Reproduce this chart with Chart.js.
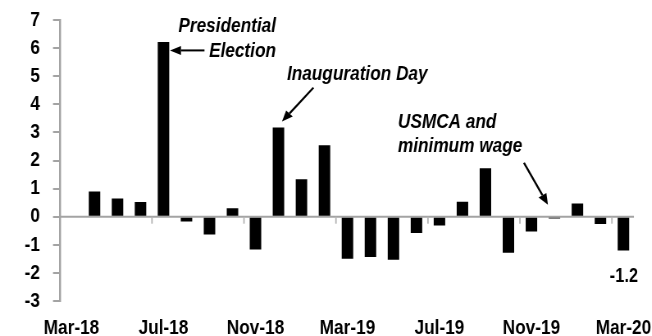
<!DOCTYPE html>
<html>
<head>
<meta charset="utf-8">
<script src="https://cdn.jsdelivr.net/npm/chart.js@4/dist/chart.umd.min.js"></script>
<style>
html,body{margin:0;padding:0;background:#fff;overflow:hidden;}
#outer{width:652px;height:336px;overflow:hidden;position:relative;}
#wrap{width:795px;height:336px;transform:scaleX(0.82);transform-origin:0 0;}
</style>
</head>
<body>
<div id="outer"><div id="wrap"><canvas id="c" width="795" height="336"></canvas></div></div>
<script>
const months = ["Mar-18","Apr-18","May-18","Jun-18","Jul-18","Aug-18","Sep-18","Oct-18","Nov-18","Dec-18",
  "Jan-19","Feb-19","Mar-19","Apr-19","May-19","Jun-19","Jul-19","Aug-19","Sep-19","Oct-19","Nov-19","Dec-19",
  "Jan-20","Feb-20","Mar-20"];
const values = [null, 0.9, 0.65, 0.52, 6.22, -0.17, -0.63, 0.3, -1.17, 3.17, 1.33, 2.54,
  -1.5, -1.43, -1.53, -0.58, -0.31, 0.53, 1.72, -1.28, -0.53, -0.06, 0.47, -0.26, -1.2];
const shownTickLabels = ["Mar-18","Jul-18","Nov-18","Mar-19","Jul-19","Nov-19","Mar-20"];
const yTicks = [-3,-2,-1,0,1,2,3,4,5,6,7];
const annotations = [
  {lines:["Presidential","Election"], month:"Jul-18"},
  {lines:["Inauguration Day"], month:"Dec-18"},
  {lines:["USMCA and","minimum wage"], month:"Dec-19"},
  {lines:["-1.2"], month:"Mar-20"}
];

// horizontal condensing factor (emulates a narrow typeface)
const K = 0.82;
const FAM = '"Liberation Sans", Arial, Helvetica, sans-serif';
const GRAY = '#a3a3a3';

const annotPlugin = {
  id: 'annot',
  beforeDatasetsDraw(chart){
    const ctx = chart.ctx, x = chart.scales.x, y = chart.scales.y;
    const y0 = y.getPixelForValue(0);
    ctx.save();
    ctx.strokeStyle = GRAY; ctx.lineWidth = 2;
    ctx.beginPath(); ctx.moveTo(chart.chartArea.left, y0); ctx.lineTo(chart.chartArea.right - 1/K, y0); ctx.stroke();
    ctx.lineWidth = 1.5/K; ctx.strokeStyle = '#b5b5b5';
    for (let i = 4; i < months.length; i += 4) {
      const px = (x.getPixelForValue(i-1) + x.getPixelForValue(i)) / 2;
      ctx.beginPath(); ctx.moveTo(px, y0); ctx.lineTo(px, y0 + 7); ctx.stroke();
    }
    ctx.restore();
  },
  afterDatasetsDraw(chart){
    const ctx = chart.ctx, x = chart.scales.x, y = chart.scales.y;
    const X = m => x.getPixelForValue(months.indexOf(m));
    const V = m => values[months.indexOf(m)];
    const d = v => v / K; // reference px -> canvas px (horizontal)
    function arrow(x1,y1,x2,y2){
      ctx.save();
      ctx.scale(1/K, 1);
      x1 *= K; x2 *= K;
      const ang = Math.atan2(y2-y1, x2-x1), L = 11, W = 4.5;
      const bx = x2 - L*Math.cos(ang), by = y2 - L*Math.sin(ang);
      ctx.beginPath(); ctx.moveTo(x1,y1); ctx.lineTo(bx,by);
      ctx.lineWidth = 2; ctx.strokeStyle = '#000'; ctx.stroke();
      ctx.beginPath(); ctx.moveTo(x2,y2);
      ctx.lineTo(bx + W*Math.sin(ang), by - W*Math.cos(ang));
      ctx.lineTo(bx - W*Math.sin(ang), by + W*Math.cos(ang));
      ctx.closePath(); ctx.fillStyle = '#000'; ctx.fill();
      ctx.restore();
    }
    ctx.save();
    ctx.fillStyle = '#000';
    ctx.textBaseline = 'alphabetic';
    ctx.font = 'italic bold 21px ' + FAM;
    // Presidential Election
    let a = annotations[0], bx = X(a.month), by = y.getPixelForValue(V(a.month));
    ctx.textAlign = 'right';
    ctx.fillText(a.lines[0], bx + d(112.5), by - 10);
    ctx.fillText(a.lines[1], bx + d(112.5), by + 15);
    arrow(bx + d(41), by + 8.5, bx + d(6.5), by + 8.5);
    // Inauguration Day
    a = annotations[1]; bx = X(a.month); by = y.getPixelForValue(V(a.month));
    ctx.textAlign = 'left';
    ctx.fillText(a.lines[0], bx + d(8.5), by - 48);
    arrow(bx + d(35), by - 40, bx + d(3.5), by - 6);
    // USMCA
    a = annotations[2]; bx = X(a.month); by = y.getPixelForValue(0);
    ctx.textAlign = 'left';
    ctx.fillText(a.lines[0], bx - d(156.5), by - 89);
    ctx.fillText(a.lines[1], bx - d(156.5), by - 65);
    arrow(bx - d(30.5), by - 54, bx - d(6.5), by - 12);
    // -1.2 label
    a = annotations[3]; bx = X(a.month); by = y.getPixelForValue(V(a.month));
    ctx.font = 'bold 20px ' + FAM;
    ctx.textAlign = 'center';
    ctx.fillText(a.lines[0], bx + d(0.5), by + 32);
    ctx.restore();
  }
};

new Chart(document.getElementById('c'), {
  type: 'bar',
  data: {
    labels: months,
    datasets: [{
      data: values,
      backgroundColor: '#000',
      borderWidth: 0,
      barPercentage: 0.5,
      categoryPercentage: 1.0
    }]
  },
  options: {
    responsive: false,
    animation: false,
    events: [],
    layout: {padding: {top: 20, right: 17/K, left: 0, bottom: 0}},
    plugins: {legend: {display: false}, tooltip: {enabled: false}},
    scales: {
      x: {
        grid: {display: false, drawTicks: false},
        border: {display: false},
        ticks: {
          autoSkip: false, maxRotation: 0, minRotation: 0, padding: 15,
          color: '#000',
          font: {family: FAM, size: 21, weight: 'bold'},
          callback: function(v, i){ const l = months[i]; return shownTickLabels.includes(l) ? l : ''; }
        },
        afterFit: s => { s.height = 35; s.paddingLeft = 0; s.paddingRight = 0; }
      },
      y: {
        min: yTicks[0], max: yTicks[yTicks.length-1],
        afterBuildTicks: s => { s.ticks = yTicks.map(v => ({value: v})); },
        grid: {drawOnChartArea: false, drawTicks: true, tickLength: 7/K, color: GRAY, lineWidth: 2},
        border: {display: true, color: GRAY, width: 2/K},
        ticks: {
          autoSkip: false,
          padding: 13/K, color: '#000',
          font: {family: FAM, size: 21, weight: 'bold'}
        },
        afterFit: s => { s.width = 60/K; s.paddingTop = 0; s.paddingBottom = 0; }
      }
    }
  },
  plugins: [annotPlugin]
});
</script>
</body>
</html>
